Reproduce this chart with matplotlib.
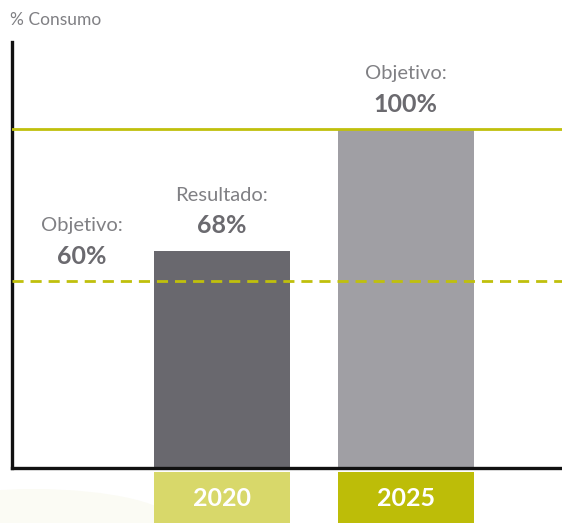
import matplotlib.pyplot as plt
from matplotlib.patches import Ellipse

# values
years = ["2020", "2025"]
values = [68, 100]
labels = ["Resultado:", "Objetivo:"]
goal_2020 = 60
goal_2025 = 100

bar_colors = ["#69686e", "#a09fa4"]
box_colors = ["#d8d86a", "#bdbd08"]
line_color = "#c0c00c"
text_dark = "#6b6a6f"
text_light = "#808084"

plt.rcParams["font.family"] = ["Lato", "DejaVu Sans"]

fig = plt.figure(figsize=(5.62, 5.23), dpi=100)

# faint background swoosh bottom-left
fig.patches.append(Ellipse((0.06, 0.0), 0.5, 0.13, transform=fig.transFigure,
                           facecolor="#fbfbf4", edgecolor="none", zorder=-1))

ax = fig.add_axes([0.0214, 0.105, 0.979, 0.8145], zorder=2)
ax.patch.set_alpha(0)
xs = list(range(len(years)))
w = 0.739

ax.bar(xs, values, width=w, color=bar_colors, zorder=2)
ax.axhline(goal_2025, color=line_color, lw=2, zorder=3)
ax.axhline(goal_2020, color=line_color, lw=2, ls=(0, (4, 2.5)), zorder=3)

ax.set_xlim(-1.139, 1.851)
ax.set_ylim(10.8, 122.9)
for s in ["top", "right"]:
    ax.spines[s].set_visible(False)
for s in ["left", "bottom"]:
    ax.spines[s].set_linewidth(2.4)
    ax.spines[s].set_color("#111111")
ax.set_xticks([])
ax.set_yticks([])


def label(x, y, head, num):
    ax.annotate(num, (x, y), xytext=(0, 18), textcoords="offset points",
                ha="center", va="center", fontsize=18, fontweight="bold",
                color=text_dark)
    ax.annotate(head, (x, y), xytext=(0, 40), textcoords="offset points",
                ha="center", va="center", fontsize=14.5,
                color=text_light)


label(-0.758, goal_2020, "Objetivo:", f"{goal_2020}%")
for x, v, h in zip(xs, values, labels):
    label(x, v, h, f"{v}%")

fig.text(0.018, 0.962, "% Consumo", fontsize=12.5,
         color=text_light, ha="left", va="center")

# year boxes under the axis
ax2 = fig.add_axes([0.0214, 0.0, 0.979, 0.0975], zorder=2)
ax2.bar(xs, [1, 1], width=w, color=box_colors)
ax2.set_xlim(ax.get_xlim())
ax2.set_ylim(0, 1)
ax2.axis("off")
for x, yr in zip(xs, years):
    ax2.text(x, 0.48, yr, ha="center", va="center", fontsize=18,
             fontweight="bold", color="white")

fig.savefig("out.png", dpi=100)
